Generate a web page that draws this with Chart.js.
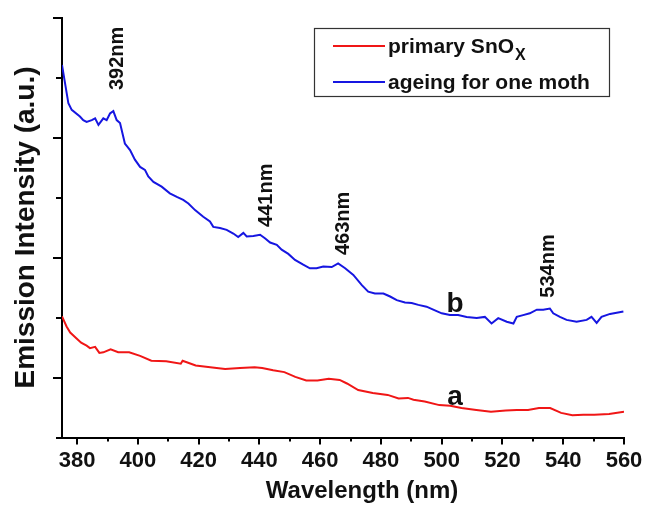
<!DOCTYPE html>
<html><head><meta charset="utf-8">
<script src="https://cdn.jsdelivr.net/npm/chart.js@4/dist/chart.umd.min.js"></script>
<style>html,body{margin:0;padding:0;background:#fff}#wrap{width:645px;height:505px;position:relative}</style>
</head><body><div id="wrap"><canvas id="c" width="645" height="505"></canvas></div>
<script>
// ---- data ----
const wavelengthA = [375.0,376.5,377.7,379.8,381.3,383.1,384.2,385.9,387.3,388.6,391.0,393.5,397.1,400.7,404.4,409.3,414.1,414.7,419.0,423.8,428.7,433.6,438.4,440.9,444.5,448.2,451.8,455.4,459.1,462.8,466.4,468.8,472.5,477.3,482.2,485.8,488.9,490.7,494.4,499.2,502.8,506.5,511.4,516.2,521.1,524.7,528.4,532.0,535.7,539.3,543.0,546.6,550.2,555.1,560.0];
const intensityA = [2.02,1.85,1.75,1.65,1.58,1.53,1.49,1.51,1.41,1.42,1.47,1.42,1.42,1.36,1.28,1.27,1.23,1.28,1.20,1.17,1.14,1.16,1.17,1.16,1.12,1.09,1.01,0.95,0.95,0.98,0.96,0.90,0.79,0.74,0.71,0.65,0.66,0.63,0.60,0.54,0.53,0.49,0.46,0.43,0.45,0.46,0.46,0.49,0.49,0.41,0.37,0.38,0.38,0.39,0.43];
const wavelengthB = [375.0,377.1,378.2,380.9,382.0,383.1,384.8,385.9,387.0,388.6,389.7,390.8,391.9,393.0,394.1,395.7,397.4,399.0,400.7,402.3,403.4,405.1,407.8,410.5,412.8,414.9,416.6,418.8,421.5,423.7,424.8,427.0,429.2,431.4,433.0,434.7,435.8,438.0,440.2,441.8,443.5,445.7,447.3,449.5,451.7,454.4,456.6,458.8,461.0,463.8,465.9,468.2,470.9,473.7,475.8,478.0,480.8,483.0,485.2,487.9,490.1,492.3,495.0,497.2,500.0,502.7,505.4,508.2,511.5,514.2,516.4,518.6,521.4,523.6,524.7,526.8,529.0,531.3,533.4,535.6,536.7,538.9,541.1,544.4,547.7,549.3,551.0,552.6,555.4,557.6,559.8];
const intensityB = [6.21,5.57,5.46,5.35,5.29,5.26,5.29,5.32,5.21,5.32,5.29,5.40,5.44,5.29,5.24,4.90,4.79,4.63,4.51,4.46,4.35,4.26,4.18,4.07,4.01,3.96,3.90,3.79,3.68,3.60,3.51,3.49,3.46,3.40,3.34,3.41,3.35,3.36,3.38,3.32,3.25,3.21,3.13,3.06,2.96,2.88,2.82,2.82,2.85,2.84,2.90,2.82,2.71,2.54,2.43,2.40,2.40,2.35,2.29,2.25,2.24,2.21,2.18,2.13,2.07,2.04,2.04,2.01,1.99,2.01,1.90,1.99,1.93,1.90,2.01,2.04,2.07,2.13,2.13,2.15,2.07,2.01,1.96,1.93,1.96,2.01,1.91,2.01,2.06,2.08,2.10];
const xMajorTicks = [380,400,420,440,460,480,500,520,540,560];
const xMinorTicks = [390,410,430,450,470,490,510,530,550];
const yTicks = [0,1,2,3,4,5,6,7];
const xTitle = 'Wavelength (nm)';
const yTitle = 'Emission Intensity (a.u.)';
const seriesNames = ['primary SnO', 'ageing for one moth'];
const seriesSub = ['X', ''];
const peakTexts = ['392nm','441nm','463nm','534nm'];
const peakAtX = [393.4,442.2,467.8,535.0];
const peakAtY = [5.79,3.51,3.04,2.33];
const curveTags = ['a','b'];
const tagAtX = [504.4,504.4];
const tagAtY = [0.54,2.09];

const FONT = '"Liberation Sans", Arial, sans-serif';
const RED = 'rgb(240,22,22)';
const BLUE = 'rgb(22,22,225)';

const toXY = (xs, ys) => xs.map((x, i) => ({x, y: ys[i]}));

const tickPlugin = {
  id: 'ticks',
  afterDraw(chart) {
    const ctx = chart.ctx, xs = chart.scales.x, ys = chart.scales.y, a = chart.chartArea;
    ctx.save();
    ctx.strokeStyle = '#000'; ctx.lineWidth = 2; ctx.lineCap = 'butt';
    ctx.beginPath();
    xMajorTicks.forEach(v => { const p = Math.round(xs.getPixelForValue(v)); ctx.moveTo(p, a.bottom); ctx.lineTo(p, a.bottom + 7); });
    xMinorTicks.forEach(v => { const p = Math.round(xs.getPixelForValue(v)); ctx.moveTo(p, a.bottom); ctx.lineTo(p, a.bottom + 4); });
    yTicks.forEach(v => { const p = Math.round(ys.getPixelForValue(v)); const L = (v % 2 === 1) ? 9 : 6; ctx.moveTo(a.left, p); ctx.lineTo(a.left - L, p); });
    ctx.stroke();
    // x axis title (slightly right of centre, as in the reference)
    ctx.fillStyle = '#111';
    ctx.font = 'bold 24px ' + FONT;
    ctx.textAlign = 'center'; ctx.textBaseline = 'middle';
    ctx.fillText(xTitle, (a.left + a.right) / 2 + 19, 491);
    ctx.restore();
  }
};

const notePlugin = {
  id: 'notes',
  afterDatasetsDraw(chart) {
    const ctx = chart.ctx, xs = chart.scales.x, ys = chart.scales.y;
    ctx.save();
    ctx.fillStyle = '#111';
    ctx.font = 'bold 20px ' + FONT;
    ctx.textAlign = 'left'; ctx.textBaseline = 'middle';
    peakTexts.forEach((t, i) => {
      ctx.save();
      ctx.translate(xs.getPixelForValue(peakAtX[i]), ys.getPixelForValue(peakAtY[i]));
      ctx.rotate(-Math.PI / 2);
      ctx.fillText(t, 0, 0);
      ctx.restore();
    });
    ctx.font = 'bold 28px ' + FONT;
    ctx.textAlign = 'center'; ctx.textBaseline = 'alphabetic';
    curveTags.forEach((t, i) => ctx.fillText(t, xs.getPixelForValue(tagAtX[i]), ys.getPixelForValue(tagAtY[i])));
    ctx.restore();
  }
};

const legendPlugin = {
  id: 'boxlegend',
  afterDraw(chart) {
    const ctx = chart.ctx;
    const bx = 314, by = 28, bw = 295, bh = 68;
    ctx.save();
    ctx.strokeStyle = '#333'; ctx.lineWidth = 1.2;
    ctx.strokeRect(bx + 0.5, by + 0.5, bw, bh);
    const rows = [53, 89];
    chart.data.datasets.forEach((ds, i) => {
      const ly = rows[i] - 7;
      ctx.strokeStyle = ds.borderColor; ctx.lineWidth = 2;
      ctx.beginPath(); ctx.moveTo(333, ly); ctx.lineTo(385, ly); ctx.stroke();
      ctx.fillStyle = '#111';
      ctx.font = 'bold 21px ' + FONT;
      ctx.textAlign = 'left'; ctx.textBaseline = 'alphabetic';
      ctx.fillText(seriesNames[i], 388, rows[i]);
      if (seriesSub[i]) {
        const w = ctx.measureText(seriesNames[i]).width;
        ctx.font = 'bold 16px ' + FONT;
        ctx.fillText(seriesSub[i], 388 + w + 1, rows[i] + 7);
      }
    });
    ctx.restore();
  }
};

new Chart(document.getElementById('c'), {
  type: 'line',
  data: {
    datasets: [
      { label: seriesNames[0] + seriesSub[0], data: toXY(wavelengthA, intensityA), borderColor: RED, backgroundColor: RED, borderWidth: 2, pointRadius: 0, tension: 0 },
      { label: seriesNames[1], data: toXY(wavelengthB, intensityB), borderColor: BLUE, backgroundColor: BLUE, borderWidth: 2, pointRadius: 0, tension: 0 }
    ]
  },
  options: {
    responsive: false, animation: false, devicePixelRatio: 1,
    layout: { padding: { top: 17.5, right: 21, left: 0, bottom: 0 } },
    plugins: { legend: { display: false }, tooltip: { enabled: false } },
    scales: {
      x: {
        type: 'linear', min: 375, max: 560,
        afterBuildTicks: s => { s.ticks = xMajorTicks.map(v => ({ value: v })); },
        afterFit: s => { s.height = 67.5; s.paddingLeft = 0; s.paddingRight = 0; },
        ticks: { color: '#111', font: { family: FONT, size: 22, weight: 'bold' }, padding: 10, maxRotation: 0, autoSkip: false },
        grid: { display: true, drawOnChartArea: false, drawTicks: false },
        border: { display: true, color: '#000', width: 2 },
        title: { display: false }
      },
      y: {
        type: 'linear', min: 0, max: 7,
        afterBuildTicks: s => { s.ticks = yTicks.map(v => ({ value: v })); },
        afterFit: s => { s.width = 62; s.paddingTop = 0; s.paddingBottom = 0; },
        ticks: { display: false },
        grid: { display: true, drawOnChartArea: false, drawTicks: false },
        border: { display: true, color: '#000', width: 2 },
        title: { display: true, text: yTitle, color: '#111', font: { family: FONT, size: 28, weight: 'bold' }, padding: { top: 9, bottom: 0 } }
      }
    }
  },
  plugins: [tickPlugin, notePlugin, legendPlugin]
});
</script>
</body></html>
